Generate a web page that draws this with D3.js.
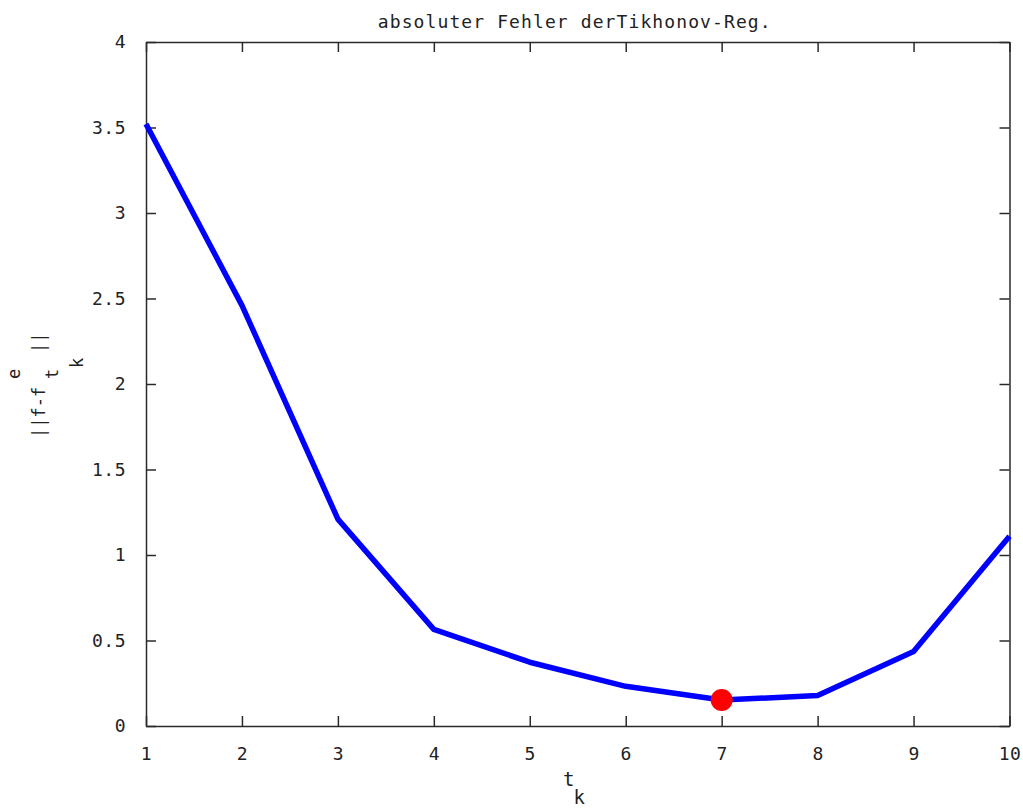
<!DOCTYPE html>
<html><head><meta charset="utf-8">
<script src="https://cdn.jsdelivr.net/npm/d3@7"></script>
<style>body{margin:0;background:#fff}svg{display:block}text{font-family:"DejaVu Sans Mono",monospace;fill:#222}</style>
</head><body><svg id="c" width="1023" height="809"></svg>
<script>
const xVals = [1,2,3,4,5,6,7,8,9,10];
const yVals = [3.52,2.46,1.21,0.565,0.373,0.232,0.152,0.178,0.435,1.11];
const minPoint = [7, 0.152];
const xTicks = [1,2,3,4,5,6,7,8,9,10];
const yTicks = [0,0.5,1,1.5,2,2.5,3,3.5,4];
const titleText = "absoluter Fehler derTikhonov-Reg.";

const svg = d3.select("#c");
const L=146, R=1009.5, T=42, B=726;
const x = d3.scaleLinear().domain([1,10]).range([L,R]);
const y = d3.scaleLinear().domain([0,4]).range([B,T]);
const axColor="#2a2a2a";

const fmt = d => String(d);
const ax = [
  {g:d3.axisBottom(x).tickValues(xTicks).tickFormat(fmt), t:`translate(0,${B})`},
  {g:d3.axisTop(x).tickValues(xTicks).tickFormat(""), t:`translate(0,${T})`},
  {g:d3.axisLeft(y).tickValues(yTicks).tickFormat(fmt), t:`translate(${L},0)`},
  {g:d3.axisRight(y).tickValues(yTicks).tickFormat(""), t:`translate(${R},0)`}
];
ax.forEach((a,i)=>{
  a.g.tickSizeInner(-10).tickSizeOuter(0).tickPadding(i===0?21:20);
  const g = svg.append("g").attr("transform",a.t).call(a.g);
  g.select(".domain").attr("stroke",axColor).attr("stroke-width",1.5);
  g.selectAll(".tick line").attr("stroke",axColor).attr("stroke-width",1.5);
  g.selectAll(".tick text").attr("font-size",18).attr("fill","#222")
    .style("font-family","DejaVu Sans Mono, monospace").style("letter-spacing","0.5px");
});

svg.append("path").datum(xVals.map((v,i)=>[v,yVals[i]]))
  .attr("fill","none").attr("stroke","#0000ff").attr("stroke-width",5.5)
  .attr("stroke-linejoin","round")
  .attr("d", d3.line().x(d=>x(d[0])).y(d=>y(d[1])));

svg.append("circle").attr("cx",x(minPoint[0])).attr("cy",y(minPoint[1])).attr("r",11).attr("fill","#ff0000");

svg.append("text").attr("x",(L+R)/2-3).attr("y",28).attr("text-anchor","middle").attr("font-size",18)
  .style("letter-spacing","1.1px").text(titleText);

const xl = svg.append("text").attr("x",563).attr("y",786).attr("font-size",19);
xl.append("tspan").text("t");
xl.append("tspan").attr("dy",18).attr("dx",-1).text("k");

const ylab = svg.append("g");
const pieces = [
  {s:"||f-f", u:0, off:0},
  {s:"e", u:59, off:-25},
  {s:"t", u:59, off:13},
  {s:"k", u:70, off:38},
  {s:"||", u:85, off:0}
];
pieces.forEach(p=>{
  ylab.append("text").attr("font-size",17)
    .attr("transform",`translate(${45+p.off},${438-p.u}) rotate(-90)`).text(p.s);
});
</script></body></html>
